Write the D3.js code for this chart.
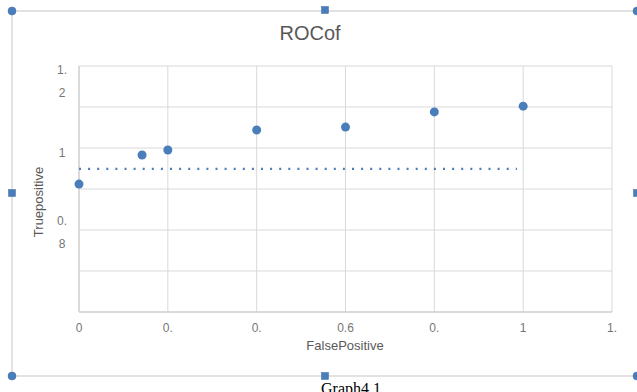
<!DOCTYPE html>
<html>
<head>
<meta charset="utf-8">
<title>ROCof</title>
<style>
body { margin: 0; background: #fff; }
text { font-family: "Liberation Sans", Arial, sans-serif; fill: #595959; }
.tick { fill: #767676; }
.grid line { stroke: #d9d9d9; stroke-width: 1px; }
.frame { stroke: #d9d9d9; stroke-width: 1.5px; }
.handle { fill: #4a7ebb; stroke: #3a6aa8; stroke-width: 0.5px; }
</style>
</head>
<body>
<script src="https://cdn.jsdelivr.net/npm/d3@7"></script>
<script>

// values
var falsePositive = [0, 0.142, 0.2, 0.4, 0.6, 0.8, 1.0];
var truePositive  = [0.912, 0.983, 0.995, 1.044, 1.051, 1.088, 1.102];

// dotted reference line
var refX = [0, 0.986];
var refY = 0.949;

var xTicks = [0, 0.2, 0.4, 0.6, 0.8, 1.0, 1.2];
var xTickLabels = ["0", "0.", "0.", "0.6", "0.", "1", "1."];
var yGrid = [0.6, 0.7, 0.8, 0.9, 1.0, 1.1, 1.2];
var yTicks = [1.2, 1.0, 0.8];
var yTickLabels = [["1.", "2"], ["1"], ["0.", "8"]];

var width = 637, height = 392;
var margin = {top: 66, right: 25, bottom: 80, left: 79};

var svg = d3.select("body").append("svg")
    .attr("width", width)
    .attr("height", height);

var x = d3.scaleLinear().domain([0, 1.2]).range([margin.left, 612]);
var y = d3.scaleLinear().domain([0.6, 1.2]).range([312, margin.top]);

// chart frame (word selection box)
svg.append("line").attr("class", "frame").attr("x1", 12).attr("y1", 11).attr("x2", width).attr("y2", 11);
svg.append("line").attr("class", "frame").attr("x1", 12).attr("y1", 11).attr("x2", 12).attr("y2", 376);
svg.append("line").attr("class", "frame").attr("x1", 12).attr("y1", 376).attr("x2", width).attr("y2", 376);

// gridlines
var grid = svg.append("g").attr("class", "grid");
grid.selectAll(".vg")
    .data(xTicks)
    .enter().append("line")
    .attr("x1", function(d) { return x(d); })
    .attr("x2", function(d) { return x(d); })
    .attr("y1", y(1.2))
    .attr("y2", y(0.6));
grid.selectAll(".hg")
    .data(yGrid)
    .enter().append("line")
    .attr("x1", x(0))
    .attr("x2", x(1.2))
    .attr("y1", function(d) { return y(d); })
    .attr("y2", function(d) { return y(d); });

// axis lines a touch darker
svg.append("line").attr("x1", x(0)).attr("x2", x(1.2)).attr("y1", y(0.6)).attr("y2", y(0.6))
    .style("stroke", "#c8c8c8").style("stroke-width", 1);
svg.append("line").attr("x1", x(0)).attr("x2", x(0)).attr("y1", y(1.2)).attr("y2", y(0.6))
    .style("stroke", "#c8c8c8").style("stroke-width", 1);

// x tick labels
svg.selectAll(".xl")
    .data(xTicks)
    .enter().append("text")
    .attr("class", "tick")
    .attr("x", function(d) { return x(d); })
    .attr("y", 332)
    .attr("text-anchor", "middle")
    .style("font-size", "12px")
    .text(function(d, i) { return xTickLabels[i]; });

// y tick labels, wrapped like the original
var yOffset = {"1.2": 8, "1": 9, "0.8": -5};
yTicks.forEach(function(v, i) {
    var t = svg.append("text")
        .attr("class", "tick")
        .attr("x", 62)
        .attr("y", y(v) + yOffset[String(v)])
        .attr("text-anchor", "middle")
        .style("font-size", "12px");
    yTickLabels[i].forEach(function(s, j) {
        t.append("tspan")
            .attr("x", 62)
            .attr("dy", j == 0 ? 0 : 23)
            .text(s);
    });
});

// dotted line
svg.append("line")
    .attr("x1", x(refX[0]))
    .attr("x2", x(refX[1]))
    .attr("y1", y(refY))
    .attr("y2", y(refY))
    .style("stroke", "#4a7ebb")
    .style("stroke-width", 2.2)
    .style("stroke-dasharray", "2,7.1");

// points
svg.selectAll("circle.pt")
    .data(falsePositive)
    .enter().append("circle")
    .attr("class", "pt")
    .attr("cx", function(d) { return x(d); })
    .attr("cy", function(d, i) { return y(truePositive[i]); })
    .attr("r", 4.5)
    .style("fill", "#4a7ebb");

// title and axis titles
svg.append("text")
    .attr("x", 310)
    .attr("y", 40)
    .attr("text-anchor", "middle")
    .style("font-size", "20px")
    .text("ROCof");

svg.append("text")
    .attr("x", 345)
    .attr("y", 350)
    .attr("text-anchor", "middle")
    .style("font-size", "13px")
    .text("FalsePositive");

svg.append("text")
    .attr("transform", "translate(43,202) rotate(-90)")
    .attr("text-anchor", "middle")
    .style("font-size", "13px")
    .text("Truepositive");

// caption below the chart (cut off by the page edge, as in the original)
svg.append("text")
    .attr("x", 351)
    .attr("y", 394)
    .attr("text-anchor", "middle")
    .style("font-family", "'Liberation Serif', 'Times New Roman', serif")
    .style("font-size", "16px")
    .style("fill", "#000")
    .text("Graph4.1");

// selection handles
var rounds = [[12, 11], [637, 11], [12, 376], [637, 376]];
var squares = [[325, 10], [12, 193], [637, 193], [325, 376]];
svg.selectAll(".hr")
    .data(rounds)
    .enter().append("circle")
    .attr("class", "handle")
    .attr("cx", function(d) { return d[0]; })
    .attr("cy", function(d) { return d[1]; })
    .attr("r", 4);
svg.selectAll(".hs")
    .data(squares)
    .enter().append("rect")
    .attr("class", "handle")
    .attr("x", function(d) { return d[0] - 3.5; })
    .attr("y", function(d) { return d[1] - 3.5; })
    .attr("width", 7)
    .attr("height", 7);

</script>
</body>
</html>
